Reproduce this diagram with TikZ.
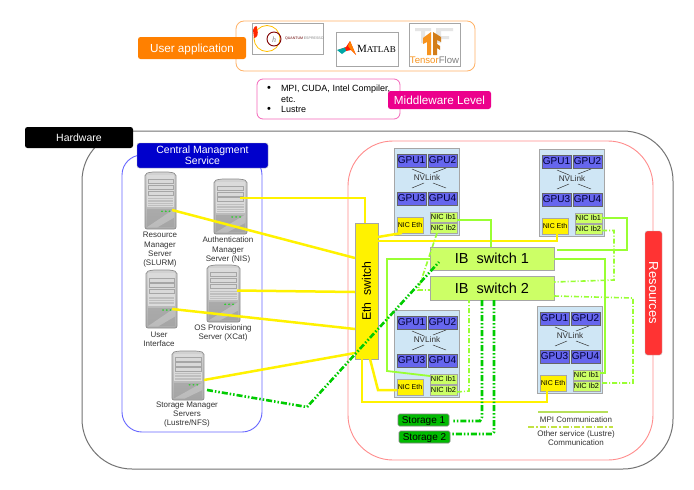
\documentclass[tikz,border=0pt]{standalone}
\usepackage{fontspec}
\setmainfont{Liberation Sans}
\newfontfamily\serifface{Liberation Serif}
\usetikzlibrary{calc}
\definecolor{blockfill}{HTML}{CFE6F5}
\definecolor{gpufill}{HTML}{6666EE}
\definecolor{ibfill}{HTML}{CCFF66}
\definecolor{ibline}{HTML}{99FF33}
\definecolor{stgreen}{HTML}{00BB00}
\definecolor{edge}{HTML}{A6A6A6}
\definecolor{ink}{HTML}{333333}
\definecolor{teflon}{HTML}{F7931E}
\newcommand{\fsz}[1]{\fontsize{#1}{#1}\selectfont}
\newcommand{\fszb}[2]{\fontsize{#1}{#2}\selectfont}
\tikzset{
  x=1pt, y=-1pt,
  every node/.style={inner sep=0pt, outer sep=0pt},
  gbox/.style={draw=edge, line width=0.9pt, text=black},
  gpubox/.style={gbox, fill=gpufill, draw=gray!80!black, text=black!80!blue, font=\fsz{10}},
  ethnic/.style={gbox, fill=yellow, font=\fsz{7}},
  ibnic/.style={gbox, fill=ibfill, font=\fsz{7.4}},
  blockbox/.style={gbox, fill=blockfill},
  switchbox/.style={gbox, fill=ibfill, font=\fsz{14.5}},
  storebox/.style={draw=gray, line width=0.6pt, fill=stgreen, rounded corners=1.5pt, font=\fsz{10}},
  tag/.style={rounded corners=2.5pt, text=white},
  slabel/.style={text=ink, align=center, font=\fszb{8}{9.3}},
  ethline/.style={yellow, line width=2.5pt},
  ibmain/.style={ibline, line width=1.8pt},
  ibalt/.style={ibline, line width=1.6pt, dash pattern=on 5pt off 2pt on 1pt off 2pt},
  stline/.style={green!80!black, line width=2.6pt, dash pattern=on 6pt off 2pt on 1.5pt off 2pt on 1.5pt off 2pt},
  nvl/.style={draw=ink, line width=0.5pt},
  logoframe/.style={draw=edge, line width=0.7pt, fill=white},
}
% rectangle node given by its corners: name, x1, y1, x2, y2, style, text
\newcommand{\cornerbox}[7]{%
  \pgfmathsetmacro{\bw}{#4-#2}\pgfmathsetmacro{\bh}{#5-#3}%
  \pgfmathsetmacro{\bx}{(#2+#4)/2}\pgfmathsetmacro{\by}{(#3+#5)/2}%
  \node[#6, text depth=0pt, minimum width=\bw pt, minimum height=\bh pt, anchor=center] (#1) at (\bx,\by) {#7};%
}
% compute node with four GPUs and three network cards, top-left at x,y
\newcommand{\computeblock}[3]{%
  \begin{scope}[shift={(#2,#3)}]
    \cornerbox{#1}{0}{0}{65}{87}{blockbox}{}
    \cornerbox{#1-g1}{3}{6}{32}{19}{gpubox}{GPU1}
    \cornerbox{#1-g2}{34}{6}{63}{19}{gpubox}{GPU2}
    \cornerbox{#1-g3}{3}{44}{32}{57}{gpubox}{GPU3}
    \cornerbox{#1-g4}{34}{44}{63}{57}{gpubox}{GPU4}
    \cornerbox{#1-eth}{3}{69}{29}{85}{ethnic}{NIC Eth}
    \cornerbox{#1-ib1}{36}{64}{63}{74}{ibnic}{NIC Ib1}
    \cornerbox{#1-ib2}{36}{75}{63}{85}{ibnic}{NIC Ib2}
    \node[font=\fsz{8.2}, text=ink] (#1-nv) at (33,30) {NVLink};
    \draw[nvl] (18,21) -- (30,26) (52,20) -- (39,25) (18,40) -- (30,35) (52,40) -- (39,35);
  \end{scope}%
}
% rack server drawn in the unit square of its node
\newcommand{\rackserver}[5]{%
  \cornerbox{#1}{#2}{#3}{#4}{#5}{}{}
  \pgfmathsetmacro{\sw}{#4-#2}\pgfmathsetmacro{\sh}{#5-#3}%
  \begin{scope}[shift={(#2,#3)}, x=\sw pt, y=-\sh pt]
    \path[draw=gray!90, line width=0.7pt, top color=gray!35, bottom color=gray!65, rounded corners=2pt]
      (0,0.03) -- (0.2,0) -- (0.8,0) -- (1,0.03) -- (1,1) -- (0,1) -- cycle;
    \fill[gray!28] (0.06,0.06) rectangle (0.94,0.62);
    \fill[gray!75, opacity=0.55] (0.06,0.65) rectangle (0.94,0.97);
    \fill[white, opacity=0.25] (0.06,0.97) -- (0.94,0.65) -- (0.94,0.8) -- (0.4,0.97) -- cycle;
    \foreach \k in {0.17,0.27,0.37}{
      \draw[gray!70, fill=gray!30, line width=0.5pt] (0.1,\k-0.035) rectangle (0.9,\k+0.035);
    }
    \foreach \k in {0.46,0.49,0.52,0.55,0.58}{
      \draw[gray!50, line width=0.3pt] (0.1,\k) -- (0.9,\k);
    }
    \foreach \k in {0.55,0.67,0.79}{
      \fill[green!60!gray] (\k,0.69) circle[x radius=0.035, y radius=0.016];
    }
  \end{scope}%
}
\begin{document}
\begin{tikzpicture}
\useasboundingbox (0,0) rectangle (694,490);
\fill[white] (0,0) rectangle (694,490);

% application layer
\draw[draw=orange!60, line width=0.8pt, rounded corners=8pt] (236,21) rectangle (475,71);
\cornerbox{app}{138}{37}{246}{59}{tag, fill=orange, font=\fsz{11.7}}{User application}

% Quantum ESPRESSO mark
\cornerbox{qe}{252}{23}{323}{54}{logoframe}{}
\draw[orange!50!yellow, line width=0.8pt] (267,38.5) circle[radius=13];
\draw[red!50!black, line width=0.9pt] (274,39) circle[radius=7];
\fill[red!70!orange] (253,30) .. controls (255,24) and (258,26) .. (257,29) .. controls (259,34) and (257,38) .. (254,38) -- cycle;
\node[font=\fsz{3.6}, text=red!40!black, anchor=west] (qetext) at (285,39) {QUANTUM\,\textcolor{gray}{ESPRESSO}};
\node[font=\fsz{8}, text=gray] (qeh) at (274,39.5) {\serifface\itshape h};

% MATLAB mark
\cornerbox{ml}{336}{32}{398}{66}{logoframe}{}
\fill[red!80!orange] (338,50) -- (346,47) -- (350,41) -- (356,55) -- (351,50) -- (346,51) -- cycle;
\fill[orange] (350,41) -- (356,55) -- (351,50) -- (348,46) -- cycle;
\fill[teal!70!cyan] (337,50) -- (345,47.5) -- (346,51) -- (342,54) -- cycle;
\node[anchor=west, font=\fsz{11}\serifface, text=black] (mltext) at (357,49) {M\fsz{9}ATLAB};

% TensorFlow mark
\cornerbox{tf}{409}{23}{460}{66}{logoframe}{}
\fill[gray!20] (415,28) -- (431,28) -- (431,31) -- (425,31) -- (425,43) -- (421,43) -- (421,31) -- (415,31) -- cycle;
\fill[gray!20] (436,28) -- (453,28) -- (453,31) -- (441,31) -- (441,36) -- (449,36) -- (449,39) -- (441,39) -- (441,43) -- (436,43) -- cycle;
\fill[teflon] (431,32) -- (431,55) -- (427,55) -- (427,42) -- (423,44) -- (423,38) -- cycle;
\fill[teflon!85!black] (433,32) -- (441,37) -- (441,42) -- (437,40) -- (437,44) -- (440,46) -- (440,50) -- (437,48) -- (437,55) -- (433,55) -- cycle;
\node[font=\fsz{9.6}, text=teflon] (tftext) at (434.5,60.5) {Tensor\textcolor{gray}{Flow}};

% middleware layer
\draw[draw=magenta!60, line width=0.8pt, rounded corners=6pt] (257,79) rectangle (400,119);
\node[font=\fsz{11}, text=black] (bul1) at (269,89) {\textbullet};
\node[font=\fsz{11}, text=black] (bul2) at (269,110) {\textbullet};
\node[font=\fszb{9}{10.6}, align=left, anchor=north west, text=black] (mw1) at (281,85) {MPI, CUDA, Intel Compiler,\\etc.\\Lustre};
\cornerbox{mw}{388}{91}{491}{109}{tag, fill=magenta, font=\fsz{11.7}}{Middleware Level}

% hardware frame
\draw[draw=gray!90!black, line width=1pt, rounded corners=50pt] (82,131) rectangle (673,469);
\cornerbox{hw}{25}{127}{133}{148}{tag, fill=black, font=\fsz{10.5}}{Hardware}

% management service
\draw[draw=blue!60, line width=0.9pt, rounded corners=20pt] (122,155) rectangle (262,432);
\cornerbox{cms}{137}{143}{268}{168}{tag, draw=gray!60, fill=blue!80!black, font=\fszb{10.5}{11}, align=center}{Central Managment\\Service}

% resources frame
\draw[draw=red!45, line width=0.9pt, rounded corners=45pt] (348,141) rectangle (653,460);
\cornerbox{res}{645}{231}{662}{355}{tag, draw=gray!50, fill=red!80!white, font=\fsz{13}}{\raisebox{\depth}{\rotatebox{-90}{Resources}}}

% servers
\rackserver{slurm}{145}{172}{176}{229}
\rackserver{nis}{214}{179}{247}{234}
\rackserver{ui}{146}{270}{177}{328}
\rackserver{xcat}{207}{265}{240}{322}
\rackserver{lustre}{172}{351}{204}{400}
\node[slabel] (slurmtxt) at (160,250) {Resource\\Manager\\Server\\(SLURM)};
\node[slabel] (nistxt) at (228,250) {Authentication\\Manager\\Server (NIS)};
\node[slabel] (uitxt) at (159,339) {User\\Interface};
\node[slabel] (xcattxt) at (223,333) {OS Provisioning\\Server (XCat)};
\node[slabel] (lustretxt) at (187,414.5) {Storage Manager\\Servers\\(Lustre/NFS)};

% compute blocks
\computeblock{A}{394}{148}
\computeblock{B}{539}{149}
\computeblock{C}{394}{310}
\computeblock{D}{537}{306}

% switches and storage
\cornerbox{eth}{355}{223}{378}{359}{gbox, fill=yellow, font=\fsz{12.3}}{\rotatebox{90}{Eth\ \ switch}}
\cornerbox{ib1}{430}{247}{554}{270}{switchbox}{IB\ \ switch 1}
\cornerbox{ib2}{430}{276}{554}{300}{switchbox}{IB\ \ switch 2}
\cornerbox{st1}{398}{414}{449}{426}{storebox}{Storage 1}
\cornerbox{st2}{399}{431}{450}{443}{storebox}{Storage 2}

% Ethernet links
\coordinate (cA) at (402,233);
\draw[ethline] ($(nis.east)+(-7,-8.5)$) -- (365,198) -- (eth.north -| 365,0);
\draw[ethline] ($(slurm.east)+(-4,9.5)$) -- (eth.west |- 0,258);
\draw[ethline] ($(xcat.east)+(-3,-3)$) -- (eth.west |- 0,292);
\draw[ethline] ($(ui.east)+(-5,10)$) -- (eth.west |- 0,329);
\draw[ethline] (lustre.east |- 0,380) -- (eth.west |- 0,353);
\draw[ethline] (eth.east |- 0,237) -- (cA);
\draw[ethline] (eth.east |- 0,241) -- (557,241) -- (B-eth.south -| 557,0);
\draw[ethline] (370,359) -- (378,390) -- (C-eth.west |- 0,390);
\draw[ethline] (362,359) -- (362,402) -- (547,402) -- (D-eth.south -| 547,0);

% InfiniBand primary links
\draw[ibmain] (A-ib1.east |- 0,220) -- (491,220) -- (ib1.north -| 491,0);
\draw[ibmain] (B-ib1.east |- 0,218) -- (627,218) -- (627,250) -- (557,250);
\draw[ibmain] (ib1.east |- 0,259) -- (605,259) -- (605,373) -- (D-ib1.east |- 0,373);
\draw[ibmain] (ib1.west |- 0,259) -- (387,259) -- (387,371) -- (C-ib1.west |- 0,376);

% InfiniBand secondary links
\draw[ibalt] (437,233) -- (418,290) -- (ib2.west |- 0,290);
\draw[ibalt] (B-ib2.east |- 0,230.5) -- (614,230.5) -- (614,280) -- (ib2.east |- 0,282);
\draw[ibalt] (ib2.east |- 0,296) -- (633,298) -- (633,383) -- (D-ib2.east |- 0,383);
\draw[ibalt] (C-ib2.east |- 0,392) -- (469,391) -- (469,300);

% storage network
\draw[stline] ($(lustre.east)+(3,14.5)$) -- (307,407) -- (439,262);
\draw[stline] (482,300) -- (482,417) -- (480,421) -- (452,421);
\draw[stline] (494,300) -- (494,432) -- (492,434) -- (452,434);

% legend
\coordinate (mpiL) at (538,412);
\coordinate (mpiR) at (608,412);
\coordinate (othL) at (528,427);
\coordinate (othR) at (613,427);
\draw[yellow!60!green!70!white, line width=1.8pt] (mpiL) -- (mpiR);
\draw[yellow!70!green!80!white, line width=1.8pt, dash pattern=on 6pt off 2pt on 1.5pt off 2pt] (othL) -- (othR);
\node[slabel] (mpitxt) at (576,419.5) {MPI Communication};
\node[slabel] (othtxt) at (576,438) {Other service (Lustre)\\Communication};
\end{tikzpicture}
\end{document}
